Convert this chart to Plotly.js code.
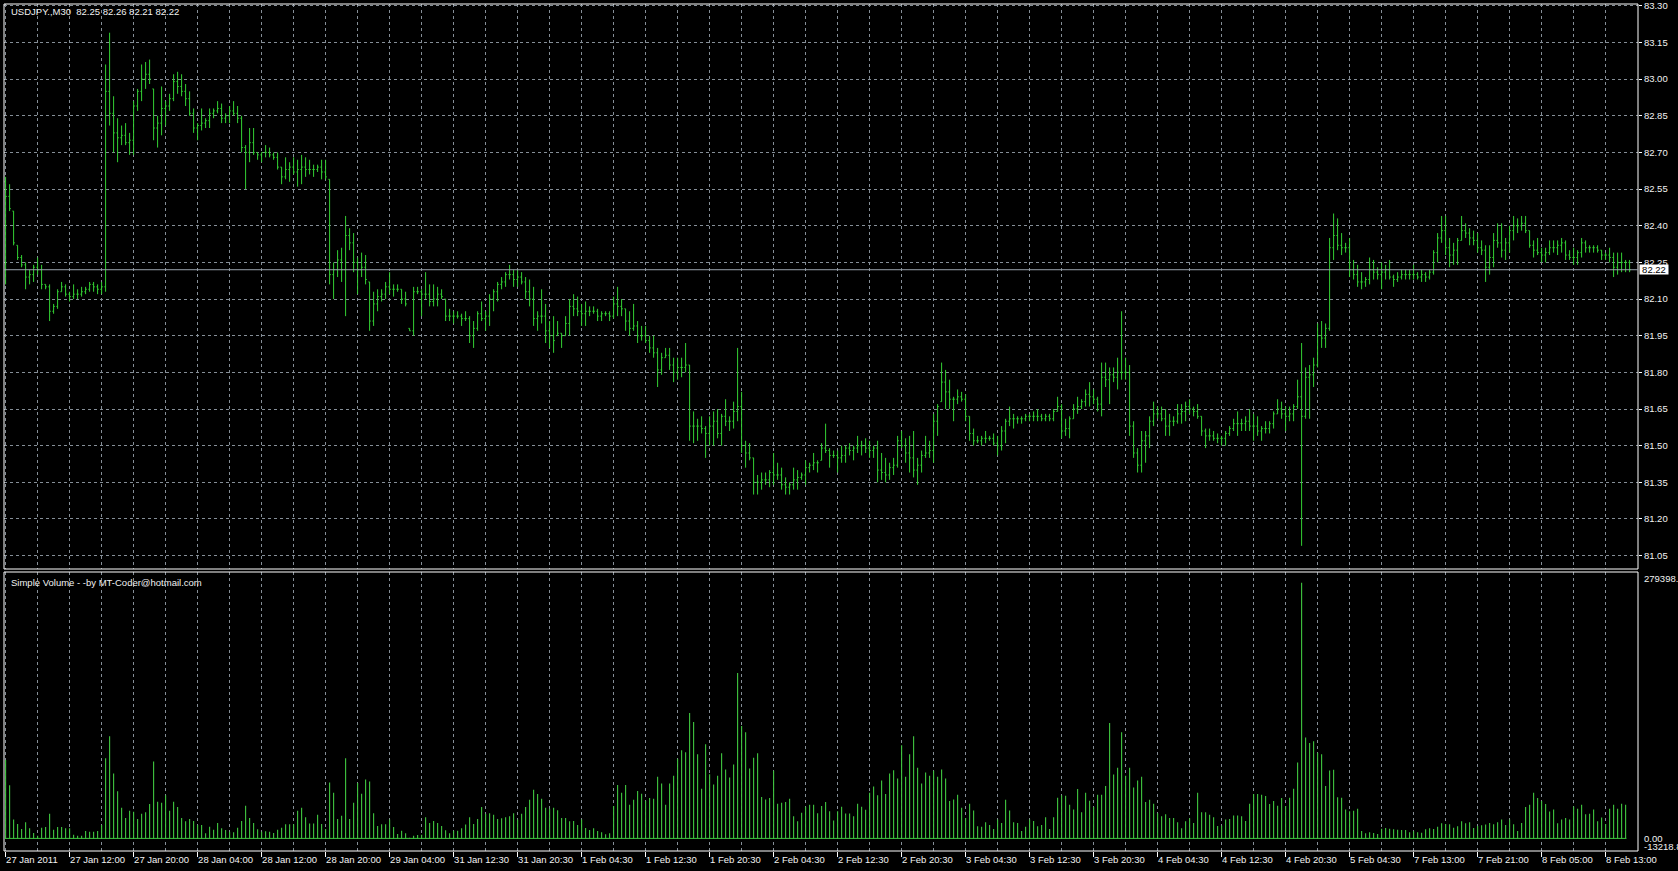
<!DOCTYPE html>
<html>
<head>
<meta charset="utf-8">
<script src="https://cdn.plot.ly/plotly-3.0.1.min.js"></script>
<style>
html,body{margin:0;padding:0;background:#000;}
#chart{width:1678px;height:871px;}
</style>
</head>
<body>
<div id="chart"></div>
<script>
// ---- data (USDJPY M30) ----
var xLabels = ["27 Jan 2011","27 Jan 12:00","27 Jan 20:00","28 Jan 04:00","28 Jan 12:00","28 Jan 20:00","29 Jan 04:00","31 Jan 12:30","31 Jan 20:30","1 Feb 04:30","1 Feb 12:30","1 Feb 20:30","2 Feb 04:30","2 Feb 12:30","2 Feb 20:30","3 Feb 04:30","3 Feb 12:30","3 Feb 20:30","4 Feb 04:30","4 Feb 12:30","4 Feb 20:30","5 Feb 04:30","7 Feb 13:00","7 Feb 21:00","8 Feb 05:00","8 Feb 13:00"];

var priceTicks = [81.05,81.20,81.35,81.50,81.65,81.80,81.95,82.10,82.25,82.40,82.55,82.70,82.85,83.00,83.15,83.30];

var firstOpen = 82.58;

var high = [
82.60,82.57,82.46,82.32,82.28,82.25,82.22,82.24,82.27,82.24,
82.16,82.16,82.08,82.14,82.17,82.16,82.13,82.16,82.14,82.15,
82.15,82.17,82.17,82.16,82.17,83.06,83.19,82.93,82.84,82.81,
82.82,82.78,82.91,82.96,83.06,83.07,83.08,82.96,82.85,82.97,
82.91,82.94,83.02,83.03,83.02,82.98,82.95,82.88,82.82,82.88,
82.84,82.88,82.88,82.91,82.90,82.86,82.89,82.91,82.89,82.85,
82.73,82.80,82.80,82.70,82.70,82.73,82.72,82.70,82.70,82.64,
82.68,82.66,82.68,82.67,82.69,82.68,82.67,82.65,82.65,82.67,
82.67,82.59,82.25,82.30,82.31,82.44,82.39,82.37,82.27,82.29,
82.28,82.17,82.13,82.14,82.14,82.17,82.21,82.16,82.16,82.14,
82.13,81.98,82.15,82.15,82.14,82.21,82.16,82.16,82.15,82.14,
82.10,82.06,82.05,82.05,82.04,82.05,82.03,82.01,82.05,82.09,
82.05,82.12,82.14,82.17,82.19,82.21,82.24,82.22,82.22,82.21,
82.19,82.18,82.15,82.05,82.14,82.08,82.01,82.03,82.01,81.96,
82.03,82.10,82.12,82.11,82.08,82.09,82.07,82.07,82.06,82.05,
82.05,82.05,82.11,82.15,82.10,82.06,82.05,82.08,82.01,81.99,
81.99,81.95,81.95,81.90,81.88,81.90,81.90,81.86,81.86,81.86,
81.92,81.83,81.64,81.61,81.62,81.58,81.62,81.64,81.65,81.63,
81.69,81.62,81.68,81.90,81.72,81.52,81.51,81.45,81.38,81.39,
81.39,81.40,81.47,81.43,81.41,81.37,81.35,81.41,81.40,81.39,
81.44,81.43,81.47,81.44,81.51,81.59,81.49,81.48,81.48,81.50,
81.50,81.51,81.50,81.54,81.52,81.53,81.52,81.50,81.52,81.47,
81.45,81.43,81.45,81.54,81.56,81.53,81.54,81.56,81.45,81.48,
81.54,81.52,81.63,81.67,81.84,81.81,81.77,81.70,81.73,81.72,
81.71,81.62,81.57,81.54,81.54,81.56,81.54,81.55,81.54,81.58,
81.61,81.66,81.63,81.62,81.62,81.63,81.63,81.64,81.65,81.63,
81.63,81.63,81.65,81.70,81.67,81.61,81.62,81.67,81.70,81.69,
81.73,81.76,81.73,81.70,81.84,81.84,81.82,81.82,81.86,82.05,
81.86,81.83,81.60,81.49,81.56,81.56,81.62,81.68,81.66,81.66,
81.65,81.63,81.62,81.67,81.67,81.68,81.69,81.66,81.67,81.62,
81.57,81.57,81.56,81.55,81.54,81.56,81.58,81.61,81.64,81.61,
81.62,81.65,81.63,81.62,81.58,81.60,81.60,81.64,81.69,81.68,
81.66,81.66,81.67,81.77,81.92,81.82,81.83,81.86,82.00,82.01,
82.00,82.35,82.45,82.43,82.37,82.33,82.35,82.26,82.24,82.21,
82.19,82.27,82.26,82.23,82.25,82.24,82.26,82.20,82.21,82.22,
82.22,82.22,82.24,82.21,82.22,82.21,82.22,82.30,82.37,82.44,
82.44,82.35,82.33,82.35,82.44,82.41,82.39,82.38,82.37,82.34,
82.32,82.32,82.37,82.41,82.41,82.35,82.40,82.44,82.43,82.44,
82.44,82.38,82.34,82.35,82.31,82.31,82.34,82.34,82.34,82.35,
82.34,82.30,82.31,82.30,82.35,82.34,82.32,82.32,82.32,82.30,
82.29,82.31,82.29,82.29,82.29,82.26,82.26];

var low = [
82.16,82.46,82.32,82.26,82.23,82.14,82.16,82.17,82.20,82.14,
82.14,82.01,82.04,82.06,82.13,82.11,82.09,82.10,82.10,82.11,
82.12,82.13,82.13,82.12,82.12,82.13,82.81,82.70,82.66,82.73,
82.73,82.69,82.69,82.87,82.91,82.96,82.98,82.75,82.72,82.77,
82.81,82.87,82.91,82.94,82.93,82.89,82.85,82.78,82.75,82.79,
82.80,82.80,82.84,82.86,82.82,82.82,82.82,82.85,82.82,82.70,
82.55,82.66,82.69,82.67,82.66,82.68,82.68,82.67,82.63,82.57,
82.59,82.58,82.61,82.56,82.57,82.60,82.61,82.60,82.62,82.59,
82.59,82.16,82.10,82.19,82.17,82.03,82.30,82.21,82.12,82.19,
82.16,81.97,81.99,82.05,82.09,82.10,82.12,82.11,82.13,82.08,
82.07,81.97,81.95,82.12,82.03,82.10,82.07,82.07,82.07,82.10,
82.01,82.01,82.00,82.02,81.99,82.01,81.92,81.90,81.97,82.01,
81.97,81.99,82.05,82.09,82.14,82.15,82.18,82.15,82.15,82.16,
82.10,82.07,81.99,81.97,82.00,81.92,81.90,81.88,81.95,81.90,
81.95,81.95,82.03,82.03,81.99,81.99,82.03,82.04,82.01,82.01,
82.03,82.01,82.02,82.03,82.03,81.97,81.95,81.97,81.92,81.93,
81.92,81.88,81.86,81.74,81.79,81.86,81.81,81.76,81.77,81.78,
81.80,81.52,81.51,81.52,81.55,81.45,81.50,81.50,81.53,81.50,
81.58,81.56,81.57,81.60,81.47,81.41,81.44,81.30,81.30,81.32,
81.34,81.33,81.34,81.36,81.32,81.30,81.30,81.32,81.32,81.36,
81.34,81.39,81.40,81.39,81.44,81.47,81.41,81.45,81.39,81.43,
81.43,81.46,81.44,81.47,81.46,81.47,81.45,81.45,81.35,81.36,
81.35,81.36,81.38,81.41,81.49,81.43,81.39,81.37,81.34,81.39,
81.45,81.45,81.43,81.54,81.68,81.65,81.65,81.60,81.67,81.68,
81.60,81.52,81.50,81.51,81.50,81.51,81.52,81.50,81.46,81.48,
81.51,81.58,81.57,81.59,81.59,81.60,81.60,81.60,81.60,81.60,
81.60,81.60,81.60,81.64,81.53,81.54,81.53,81.61,81.63,81.65,
81.66,81.66,81.67,81.64,81.62,81.74,81.67,81.76,81.73,81.77,
81.77,81.54,81.45,81.39,81.39,81.43,81.49,81.58,81.61,81.60,
81.54,81.54,81.58,81.59,81.59,81.60,81.63,81.62,81.61,81.54,
81.49,81.52,81.52,81.51,81.50,81.50,81.54,81.56,81.54,81.56,
81.56,81.56,81.52,81.54,81.52,81.55,81.55,81.57,81.63,81.61,
81.56,81.60,81.60,81.65,81.09,81.61,81.61,81.74,81.82,81.90,
81.90,81.97,82.26,82.30,82.28,82.29,82.19,82.18,82.15,82.14,
82.15,82.16,82.18,82.18,82.14,82.18,82.18,82.15,82.17,82.18,
82.18,82.18,82.18,82.18,82.17,82.17,82.18,82.20,82.25,82.33,
82.28,82.23,82.24,82.24,82.34,82.35,82.32,82.32,82.29,82.28,
82.17,82.20,82.23,82.31,82.27,82.26,82.29,82.34,82.37,82.38,
82.37,82.31,82.27,82.28,82.25,82.25,82.28,82.29,82.28,82.29,
82.26,82.26,82.24,82.24,82.27,82.29,82.29,82.29,82.29,82.26,
82.26,82.25,82.19,82.20,82.21,82.21,82.21];

var close = [
82.52,82.47,82.33,82.27,82.24,82.19,82.20,82.23,82.22,82.16,
82.15,82.05,82.07,82.13,82.15,82.12,82.11,82.12,82.12,82.13,
82.14,82.16,82.15,82.14,82.15,82.95,82.86,82.78,82.76,82.77,
82.74,82.75,82.89,82.95,83.00,83.02,83.00,82.80,82.82,82.88,
82.89,82.92,82.99,82.97,82.95,82.92,82.86,82.80,82.81,82.82,
82.83,82.86,82.87,82.88,82.84,82.85,82.87,82.86,82.84,82.72,
82.70,82.74,82.70,82.69,82.70,82.70,82.69,82.68,82.64,82.60,
82.63,82.64,82.62,82.63,82.64,82.63,82.63,82.63,82.64,82.62,
82.60,82.20,82.22,82.26,82.22,82.36,82.33,82.25,82.22,82.23,
82.18,82.01,82.08,82.11,82.12,82.15,82.14,82.14,82.14,82.10,
82.08,81.97,82.13,82.13,82.12,82.12,82.09,82.10,82.12,82.11,
82.03,82.03,82.03,82.03,82.02,82.02,81.95,81.98,82.04,82.02,
82.03,82.10,82.13,82.16,82.17,82.20,82.20,82.18,82.19,82.17,
82.13,82.10,82.02,82.03,82.03,81.97,81.95,81.93,81.96,81.95,
82.00,82.07,82.06,82.05,82.04,82.05,82.05,82.05,82.03,82.04,
82.04,82.03,82.08,82.07,82.06,82.01,81.98,81.99,81.95,81.95,
81.93,81.90,81.88,81.81,81.86,81.87,81.83,81.80,81.82,81.82,
81.83,81.58,81.58,81.58,81.57,81.55,81.58,81.60,81.55,81.62,
81.60,81.60,81.64,81.66,81.50,81.47,81.45,81.35,81.35,81.36,
81.36,81.39,81.38,81.38,81.34,81.33,81.34,81.36,81.37,81.38,
81.41,81.42,81.43,81.43,81.49,81.48,81.46,81.46,81.45,81.46,
81.49,81.48,81.49,81.50,81.50,81.49,81.48,81.49,81.40,81.39,
81.38,81.41,81.42,81.52,81.50,81.47,81.45,81.40,81.42,81.46,
81.47,81.48,81.60,81.66,81.76,81.72,81.69,81.69,81.70,81.69,
81.62,81.55,81.52,81.52,81.53,81.53,81.53,81.51,81.50,81.56,
81.60,81.61,81.61,81.61,81.61,81.62,81.62,81.62,81.62,81.61,
81.62,81.61,81.64,81.66,81.56,81.57,81.61,81.65,81.66,81.68,
81.71,81.70,81.69,81.67,81.78,81.77,81.79,81.78,81.80,81.80,
81.80,81.58,81.47,81.42,81.52,81.54,81.60,81.63,81.63,81.61,
81.58,81.60,81.60,81.63,81.64,81.66,81.65,81.64,81.62,81.56,
81.54,81.54,81.53,81.53,81.53,81.55,81.57,81.59,81.59,81.59,
81.60,81.58,81.58,81.56,81.57,81.57,81.59,81.63,81.65,81.63,
81.62,81.63,81.66,81.70,81.62,81.78,81.79,81.83,81.95,81.94,
81.98,82.31,82.36,82.32,82.31,82.31,82.22,82.20,82.17,82.17,
82.18,82.22,82.21,82.20,82.21,82.22,82.19,82.18,82.19,82.20,
82.20,82.20,82.20,82.19,82.20,82.19,82.21,82.29,82.35,82.38,
82.31,82.28,82.30,82.34,82.38,82.37,82.35,82.34,82.31,82.30,
82.23,82.27,82.34,82.33,82.30,82.33,82.38,82.40,82.40,82.41,
82.38,82.32,82.30,82.29,82.28,82.29,82.31,82.31,82.32,82.33,
82.28,82.27,82.27,82.29,82.33,82.31,82.31,82.31,82.30,82.28,
82.28,82.27,82.23,82.25,82.25,82.25,82.22];

var volume = [
82180,55730,19750,15170,9880,16930,10580,5640,2820,11290,
11990,25750,9170,11990,11990,10580,10580,3880,2820,2820,
7760,7050,7050,7760,14110,83940,107220,68070,49380,32100,
21510,28920,27860,20460,25750,27510,35980,80770,38440,37390,
45150,28920,38440,32800,21510,17990,20460,18340,14110,14110,
5290,12340,9170,16220,10580,8820,7050,6350,11290,18340,
34210,21510,16220,9520,7050,7410,7050,5640,9170,11290,
14810,14810,14810,28920,32100,22220,15520,15520,24690,15170,
9880,58550,47970,20460,23630,83940,20460,37390,58200,46910,
61720,59610,26450,13050,14810,14810,19750,11990,4590,8110,
5290,710,2820,3530,3880,22220,16220,18340,16220,13050,
8460,5290,8110,8110,10580,14460,22220,15170,20460,32800,
25750,26450,24690,20460,21160,22220,23280,26450,19750,25750,
32800,40560,51140,46560,41620,32100,31040,32100,29630,21510,
21510,17990,18340,14110,19750,10930,8820,10580,7760,6350,
4230,5290,33860,56080,47970,56080,35270,40560,49730,46910,
39500,42320,41620,64540,57490,35270,57490,65600,83590,92410,
90290,131560,122030,88180,52200,98760,67370,56430,65600,89230,
72300,63840,77590,173530,117800,111450,73360,84650,89230,43380,
40910,42320,70890,36330,37390,38090,41620,23280,17990,26810,
33150,35270,35270,26450,33860,38090,28570,18690,28570,33150,
26100,26100,23280,36330,33150,29980,47970,54320,45150,60660,
46560,68070,71600,62780,97700,64540,88180,107220,74070,57490,
69130,65600,70890,64540,72300,62780,39150,40910,45850,32100,
21510,36330,29270,12700,12340,16930,14110,9880,19750,16220,
40560,29270,16930,16220,7760,12340,19750,18340,12700,14110,
22220,9880,22220,42680,45150,44790,35270,30330,51850,27510,
47970,39500,32800,45850,45850,55020,120980,67010,74070,111450,
65600,74070,53260,60660,64540,38090,40560,36330,26450,23280,
25390,21510,21510,16930,10580,17990,21160,16220,47970,27510,
27510,24690,22220,13050,13400,19750,20460,23980,23980,23280,
18340,36330,46560,46560,45850,44440,35980,39150,34210,42320,
33860,42680,52200,79710,268050,105810,100170,101930,89940,88180,
55020,71250,71950,43030,42680,30330,28570,28920,31040,7760,
5290,6350,5640,4590,10230,10930,10230,9520,9170,8820,
8820,6350,7410,6350,6000,9520,10580,9880,12340,15870,
15170,14810,11290,12700,17990,15870,16930,10930,13050,13760,
14460,16220,14810,16930,19750,14110,19750,14810,7760,16220,
32800,35270,47970,42320,39150,35980,28220,30330,15870,19750,
21510,19750,33510,31040,35270,25390,25750,30330,17990,21870,
15170,31040,35270,31040,36330,35270,null];

var volMax = 279398.3, volMin = -13218.8;
var lastPrice = 82.22;
var headerText = "USDJPY.,M30\u00a0\u00a082.25 82.26 82.21 82.22";
var volTitle = "Simple Volume - -by MT-Coder@hotmail.com";

// ---- build ----
var n = close.length;
var idx = [], open = [];
for (var i = 0; i < n; i++) {
  idx.push(i);
  var o = (i === 0) ? firstOpen : close[i - 1];
  open.push(Math.min(high[i], Math.max(low[i], o)));
}
var majorTicks = [], minorTicks = [];
for (var k = 0; k < xLabels.length; k++) { majorTicks.push(k * 16); minorTicks.push(k * 16 + 8); }
var priceText = priceTicks.map(function (v) { return v.toFixed(2); });

var GREEN = '#33d033';
var VGREEN = '#3fc43f';
var GRID = '#858e97';
var DASH = '3px,3px';
var FONT = {family: 'Liberation Sans, Arial, sans-serif', size: 9.5, color: '#f2f2f2'};

// pixel geometry (page 1678x871)
var L = 4, R = 40, T = 4, B = 20;
var H = 871 - T - B, W = 1678 - L - R;
function py(p) { return (871 - B - p) / H; }   // pixel y -> paper y
function px(p) { return (p - L) / W; }         // pixel x -> paper x

var priceTrace = {
  type: 'ohlc', x: idx, open: open, high: high, low: low, close: close,
  xaxis: 'x', yaxis: 'y',
  increasing: {line: {color: GREEN, width: 1}},
  decreasing: {line: {color: GREEN, width: 1}},
  tickwidth: 0.3, hoverinfo: 'skip'
};
var volTrace = {
  type: 'bar', x: idx, y: volume, xaxis: 'x', yaxis: 'y2',
  width: 0.28, marker: {color: VGREEN, line: {width: 0}}, hoverinfo: 'skip'
};

var layout = {
  width: 1678, height: 871,
  margin: {l: L, r: R, t: T, b: B, pad: 0},
  paper_bgcolor: '#000', plot_bgcolor: '#000',
  showlegend: false, hovermode: false, dragmode: false,
  font: FONT,
  xaxis: {
    range: [-0.4, 408.1], anchor: 'y2', fixedrange: true,
    rangeslider: {visible: false},
    tickmode: 'array', tickvals: majorTicks, ticktext: xLabels,
    ticklabelposition: 'outside right',
    ticks: 'outside', ticklen: 5, tickcolor: '#ffffff', tickwidth: 1,
    tickfont: FONT,
    showgrid: true, gridcolor: GRID, griddash: DASH, gridwidth: 1,
    minor: {tickmode: 'array', tickvals: minorTicks, showgrid: true, gridcolor: GRID, griddash: DASH, gridwidth: 1, ticks: ''},
    showline: false, zeroline: false
  },
  yaxis: {
    domain: [py(569), 1], range: [80.9952, 83.3075], side: 'right', fixedrange: true,
    tickmode: 'array', tickvals: priceTicks, ticktext: priceText,
    ticklabeloverflow: 'allow',
    ticks: 'outside', ticklen: 3, tickcolor: '#ffffff', tickfont: FONT,
    showgrid: true, gridcolor: GRID, griddash: DASH, gridwidth: 1,
    zeroline: false, showline: false
  },
  yaxis2: {
    domain: [0, py(572)], range: [volMin, volMax], side: 'right', fixedrange: true,
    showticklabels: false, ticks: '', showgrid: false, zeroline: false, showline: false
  },
  shapes: [
    // panel frames
    {type: 'rect', xref: 'paper', yref: 'paper', x0: 0, x1: 1, y0: py(569), y1: 1, line: {color: '#ffffff', width: 1}},
    {type: 'rect', xref: 'paper', yref: 'paper', x0: 0, x1: 1, y0: 0, y1: py(572), line: {color: '#ffffff', width: 1}},
    // current price line
    {type: 'line', xref: 'paper', yref: 'y', x0: 0, x1: 1, y0: lastPrice, y1: lastPrice, line: {color: '#9aa3ad', width: 1}},
    // volume zero baseline
    {type: 'line', xref: 'x', yref: 'y2', x0: -0.2, x1: n - 1.8, y0: 0, y1: 0, line: {color: VGREEN, width: 1}}
  ],
  annotations: [
    {text: headerText, xref: 'paper', yref: 'paper', x: px(9), y: py(12), xanchor: 'left', yanchor: 'middle', showarrow: false, font: FONT},
    {text: volTitle, xref: 'paper', yref: 'paper', x: px(9), y: py(582), xanchor: 'left', yanchor: 'middle', showarrow: false, font: FONT},
    {text: lastPrice.toFixed(2), xref: 'paper', yref: 'y', x: px(1639), y: lastPrice, xanchor: 'left', yanchor: 'middle', showarrow: false,
     bgcolor: '#ffffff', font: {family: FONT.family, size: 9.5, color: '#000000'}, width: 28, height: 9, borderpad: 0},
    {text: volMax.toFixed(1), xref: 'paper', yref: 'paper', x: px(1642), y: py(578), xanchor: 'left', yanchor: 'middle', showarrow: false, font: FONT},
    {text: '0.00', xref: 'paper', yref: 'paper', x: px(1642), y: py(838), xanchor: 'left', yanchor: 'middle', showarrow: false, font: FONT},
    {text: volMin.toFixed(1), xref: 'paper', yref: 'paper', x: px(1642), y: py(846), xanchor: 'left', yanchor: 'middle', showarrow: false, font: FONT}
  ]
};

Plotly.newPlot('chart', [priceTrace, volTrace], layout, {staticPlot: true, displayModeBar: false});
</script>
</body>
</html>
